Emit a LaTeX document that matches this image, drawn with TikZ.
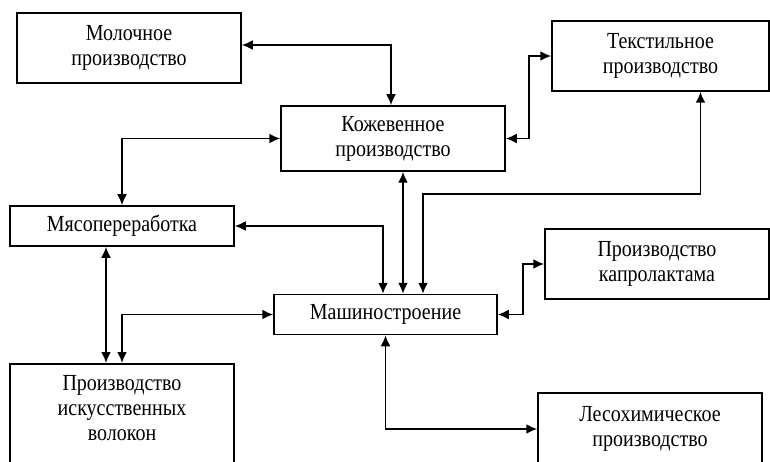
\documentclass[tikz,border=0pt]{standalone}
\usepackage{fontspec}
\setmainfont{Liberation Serif}[FakeStretch=0.87]
\usetikzlibrary{arrows.meta}

\begin{document}
\begin{tikzpicture}[
    x=1pt, y=1pt,
    box/.style={draw, line width=1.5pt, rectangle, minimum width=224pt, align=center, inner sep=0pt, font=\fontsize{23}{25}\selectfont},
    tallBox/.style={box, minimum height=70pt},
    lowBox/.style={box, minimum height=40pt},
    biLine/.style={draw, {Latex[length=11pt,width=10pt]}-{Latex[length=11pt,width=10pt]}, line width=1.9pt}
]
    \useasboundingbox (0,0) rectangle (770,461);
    \clip (0,0) rectangle (770,461);

    % Nodes
    \node[tallBox] (milk) at (129,413) {Молочное\\производство};
    \node[tallBox, minimum width=217pt] (textile) at (660.5,405) {Текстильное\\производство};
    \node[box, minimum height=65pt] (leather) at (393,322.5) {Кожевенное\\производство};
    \node[lowBox] (meat) at (122,235) {Мясопереработка};
    \node[lowBox, minimum width=223pt] (mech) at (385.5,146.5) {Машиностроение};
    \node[tallBox] (capro) at (657,197) {Производство\\капролактама};
    \node[box, anchor=north, inner ysep=12pt, text depth=80pt] (fibre) at (122,98) {Производство\\искусственных\\волокон};
    \node[box, minimum height=72pt] (forest) at (650,32) {Лесохимическое\\производство};

    % Connections
    \draw[biLine] ([yshift=3pt]milk.east) -| ([xshift=-2pt]leather.north);
    \draw[biLine] (leather.west) -| (meat.north);
    \draw[biLine] (leather.east) -- ++(23,0) |- (textile.west);
    \draw[biLine] ([xshift=10pt]leather.south) -- ([xshift=17.5pt]mech.north);
    \draw[biLine] ([xshift=40pt]textile.south) -- ++(0,-102) -| ([xshift=37.5pt]mech.north);
    \draw[biLine] (meat.east) -| ([xshift=-2.5pt]mech.north);
    \draw[biLine] ([xshift=-16pt]meat.south) -- ([xshift=-16pt]fibre.north);
    \draw[biLine] (mech.west) -| (fibre.north);
    \draw[biLine] (mech.east) -- ++(25,0) |- (capro.west);
    \draw[biLine] (mech.south) |- (forest.west);

\end{tikzpicture}
\end{document}
